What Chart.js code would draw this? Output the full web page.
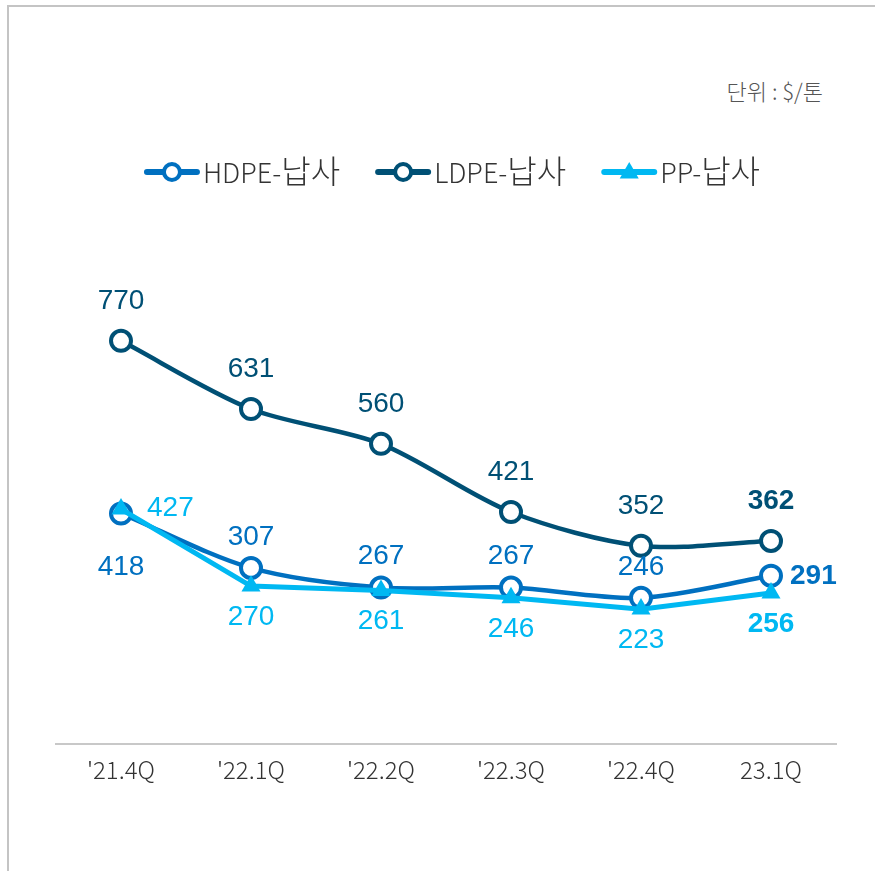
<!DOCTYPE html>
<html><head><meta charset="utf-8">
<script src="https://cdn.jsdelivr.net/npm/chart.js@4"></script>
<style>
html,body{margin:0;padding:0;background:#fff;}
#wrap{position:relative;width:875px;height:871px;overflow:hidden;}
#frame{position:absolute;left:7px;top:5px;width:900px;height:900px;border-top:2px solid #c4c4c4;border-left:2px solid #c4c4c4;}
#unit{position:absolute;right:52px;top:79px;font:300 22px "Noto Sans CJK KR";line-height:22px;color:#555;white-space:nowrap;}
canvas{position:absolute;left:0;top:0;}
</style></head><body>
<div id="wrap"><div id="frame"></div><div id="unit">단위 : $/톤</div><canvas id="c" width="875" height="871"></canvas></div>
<script>
const categories = ["'21.4Q", "'22.1Q", "'22.2Q", "'22.3Q", "'22.4Q", "23.1Q"];
const hdpeNaphtha = [418, 307, 267, 267, 246, 291];
const ldpeNaphtha = [770, 631, 560, 421, 352, 362];
const ppNaphtha = [427, 270, 261, 246, 223, 256];
const seriesNames = ["HDPE-납사", "LDPE-납사", "PP-납사"];

const COLORS = { HDPE: '#0070C0', LDPE: '#005075', PP: '#00B8F2' };

function labelRule(key, i, last) {
  if (key === 'LDPE') return { dx: 0, dy: -40, align: 'center' };
  if (key === 'HDPE') {
    if (i === 0) return { dx: 0, dy: 54, align: 'center' };
    if (i === last) return { dx: 19, dy: 1, align: 'left' };
    return { dx: 0, dy: -31, align: 'center' };
  }
  if (i === 0) return { dx: 26, dy: -1, align: 'left' };
  return { dx: 0, dy: 31, align: 'center' };
}

const valueLabels = {
  id: 'valueLabels',
  afterDatasetsDraw(chart) {
    const ctx = chart.ctx;
    ctx.save();
    ctx.textBaseline = 'middle';
    chart.data.datasets.forEach((ds, di) => {
      const meta = chart.getDatasetMeta(di);
      const last = ds.data.length - 1;
      meta.data.forEach((pt, i) => {
        const r = labelRule(ds.key, i, last);
        ctx.font = (i === last ? 'bold ' : '') + '28px "Liberation Sans", Arial, sans-serif';
        ctx.fillStyle = ds.borderColor;
        ctx.textAlign = r.align;
        ctx.fillText(String(ds.data[i]), pt.x + r.dx, pt.y + r.dy);
      });
    });
    ctx.restore();
  }
};

const LATIN_FONT = '300 27px "Noto Sans CJK KR", sans-serif';
const HANGUL_FONT = '300 32px "Noto Sans CJK KR", sans-serif';
function segments(text) {
  return (text.match(/[\uAC00-\uD7A3]+|[^\uAC00-\uD7A3]+/g) || []).map(s => ({
    s, font: /[\uAC00-\uD7A3]/.test(s) ? HANGUL_FONT : LATIN_FONT
  }));
}
function measureMixed(ctx, text) {
  return segments(text).reduce((w, seg) => { ctx.font = seg.font; return w + ctx.measureText(seg.s).width; }, 0);
}
function drawMixed(ctx, text, x, y) {
  segments(text).forEach(seg => { ctx.font = seg.font; ctx.fillText(seg.s, x, y); x += ctx.measureText(seg.s).width; });
}

const customLegend = {
  id: 'customLegend',
  afterDraw(chart) {
    const ctx = chart.ctx;
    const lineW = 56, textGap = 3, itemGap = 35, cy = 172, baseY = 183, centerX = 452;
    ctx.save();
    const items = chart.data.datasets.map(ds => ({ ds, w: lineW + textGap + measureMixed(ctx, ds.label) }));
    const total = items.reduce((s, it) => s + it.w, 0) + itemGap * (items.length - 1);
    let x = centerX - total / 2;
    items.forEach(({ ds, w }) => {
      ctx.strokeStyle = ds.borderColor;
      ctx.lineWidth = 6;
      ctx.lineCap = 'round';
      ctx.beginPath();
      ctx.moveTo(x + 3, cy); ctx.lineTo(x + lineW - 3, cy); ctx.stroke();
      const mx = x + lineW / 2;
      if (ds.pointStyle === 'triangle') {
        ctx.fillStyle = ds.borderColor;
        Chart.helpers.drawPoint(ctx, { pointStyle: 'triangle', radius: 11, borderWidth: 0 }, mx, cy + 1);
      } else {
        ctx.fillStyle = '#fff';
        ctx.lineWidth = 4;
        ctx.beginPath(); ctx.arc(mx, cy, 8, 0, Math.PI * 2); ctx.fill(); ctx.stroke();
      }
      ctx.fillStyle = '#333';
      ctx.textAlign = 'left';
      ctx.textBaseline = 'alphabetic';
      drawMixed(ctx, ds.label, x + lineW + textGap, baseY);
      x += w + itemGap;
    });
    ctx.restore();
  }
};

new Chart(document.getElementById('c'), {
  type: 'line',
  data: {
    labels: categories,
    datasets: [
      { key: 'HDPE', label: seriesNames[0], data: hdpeNaphtha, borderColor: COLORS.HDPE, backgroundColor: '#fff',
        borderWidth: 4.5, tension: 0.3, pointStyle: 'circle', pointRadius: 10, pointBorderWidth: 4,
        pointBackgroundColor: '#fff', pointBorderColor: COLORS.HDPE, order: 2 },
      { key: 'LDPE', label: seriesNames[1], data: ldpeNaphtha, borderColor: COLORS.LDPE, backgroundColor: '#fff',
        borderWidth: 4.5, tension: 0.3, pointStyle: 'circle', pointRadius: 10, pointBorderWidth: 4,
        pointBackgroundColor: '#fff', pointBorderColor: COLORS.LDPE, order: 3 },
      { key: 'PP', label: seriesNames[2], data: ppNaphtha, borderColor: COLORS.PP, backgroundColor: COLORS.PP,
        borderWidth: 5, tension: 0, pointStyle: 'triangle', pointRadius: 11, pointBorderWidth: 0,
        pointBackgroundColor: COLORS.PP, order: 1 }
    ]
  },
  options: {
    responsive: false,
    animation: false,
    devicePixelRatio: 1,
    layout: { padding: { top: 230, left: 56, right: 39, bottom: 0 } },
    plugins: { legend: { display: false }, tooltip: { enabled: false }, title: { display: false } },
    scales: {
      x: {
        offset: true,
        grid: { display: false, drawTicks: false },
        border: { display: true, color: '#c8c8c8', width: 2 },
        ticks: { color: '#333', padding: 11, maxRotation: 0, autoSkip: false,
          font: { family: '"Noto Sans CJK KR", sans-serif', size: 24, weight: 300 } },
        afterFit(axis) { axis.height = 127; }
      },
      y: { display: false, min: -52, max: 996 }
    }
  },
  plugins: [valueLabels, customLegend]
});
</script>
</body></html>
